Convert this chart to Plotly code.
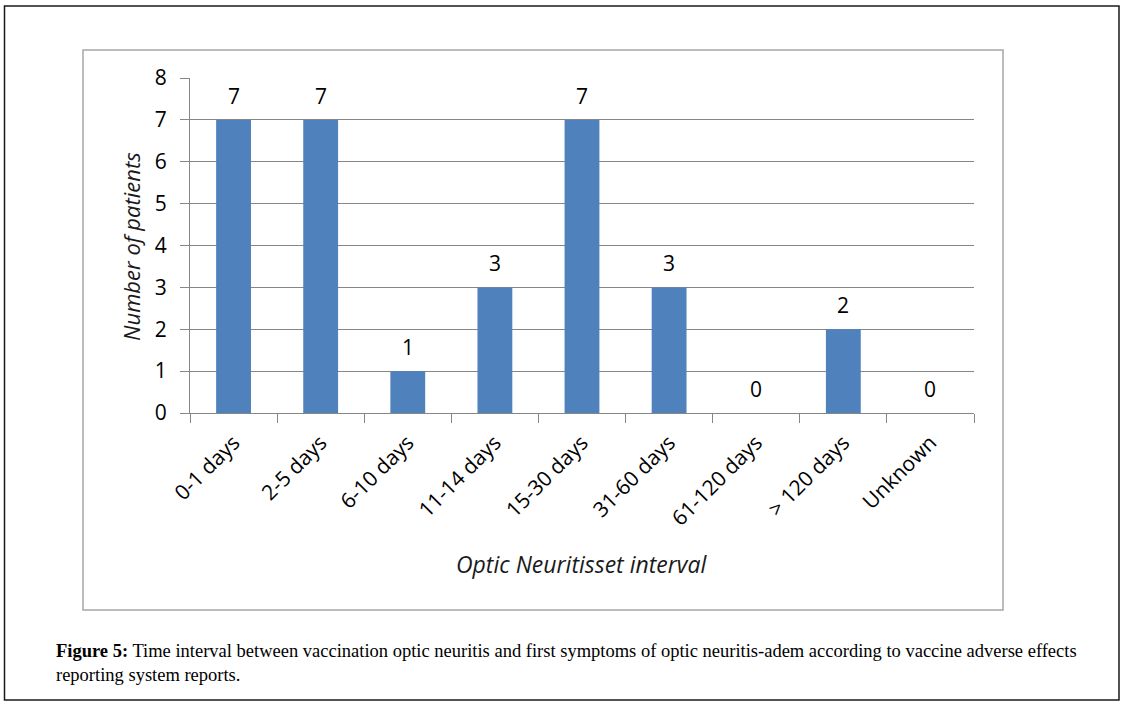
import plotly.graph_objects as go

categories = ["0-1 days", "2-5 days", "6-10 days", "11-14 days", "15-30 days",
              "31-60 days", "61-120 days", "> 120 days", "Unknown"]
patients = [7, 7, 1, 3, 7, 3, 0, 2, 0]
y_ticks = [0, 1, 2, 3, 4, 5, 6, 7, 8]

W, H = 1125, 707
L, R, T, B = 190, 974, 78, 413

def px(x):
    return (x - L) / (R - L)

def py(y):
    return (B - y) / (B - T)

fig = go.Figure(go.Bar(
    x=categories, y=patients,
    marker=dict(color="#4F81BD", line=dict(width=0)),
    hoverinfo="skip",
))

value_labels = [
    dict(x=c, y=v, xref="x", yref="y", text=str(v), showarrow=False,
         yshift=24, xanchor="center", yanchor="middle",
         font=dict(family="Open Sans", size=21, color="#000000"))
    for c, v in zip(categories, patients)
]

fig.update_layout(
    width=W, height=H,
    margin=dict(l=L, r=W - R, t=T, b=H - B),
    paper_bgcolor="white", plot_bgcolor="white",
    showlegend=False, bargap=0.6,
    font=dict(family="Open Sans", color="#000000"),
    xaxis=dict(
        type="category", showgrid=False, showline=True, linecolor="#868686",
        linewidth=1, ticks="outside", ticklen=9, tickcolor="#868686",
        tickson="boundaries", tickangle=-45, ticklabelstandoff=8,
        tickfont=dict(family="Open Sans", size=21, color="#000000"),
    ),
    yaxis=dict(
        range=[0, 8], tickvals=y_ticks, showgrid=True, gridcolor="#868686",
        gridwidth=1, showline=True, linecolor="#868686", linewidth=1,
        ticks="outside", ticklen=9, tickcolor="#868686", zeroline=False,
        tickfont=dict(family="Open Sans", size=21, color="#000000"),
        ticklabelstandoff=9,
    ),
    shapes=[
        dict(type="rect", xref="paper", yref="paper",
             x0=px(4.5), x1=px(1119), y0=py(6), y1=py(700),
             line=dict(color="#1a1a1a", width=1.5), layer="below"),
        dict(type="rect", xref="paper", yref="paper",
             x0=px(83), x1=px(1003), y0=py(50), y1=py(610),
             line=dict(color="#a6a6a6", width=1.5), layer="below"),
    ],
    annotations=value_labels + [
        dict(text="<i>Number of patients</i>", xref="paper", yref="paper",
             x=px(131), y=py(247), textangle=-90, showarrow=False,
             font=dict(family="Open Sans", size=22, color="#1a1a1a"),
             xanchor="center", yanchor="middle"),
        dict(text="<i>Optic Neuritisset interval</i>", xref="paper", yref="paper",
             x=px(581), y=py(564), showarrow=False,
             font=dict(family="Open Sans", size=23, color="#1a1a1a"),
             xanchor="center", yanchor="middle"),
        dict(text="<b>Figure 5:</b> Time interval between vaccination optic neuritis and first symptoms of optic neuritis-adem according to vaccine adverse effects<br>reporting system reports.",
             xref="paper", yref="paper", x=px(54), y=py(639), showarrow=False,
             align="left", xanchor="left", yanchor="top",
             font=dict(family="Liberation Serif", size=18.5, color="#000000")),
    ],
)

fig.write_html("out.html", config={"displayModeBar": False},
               post_script="document.body.style.margin='0px';")
